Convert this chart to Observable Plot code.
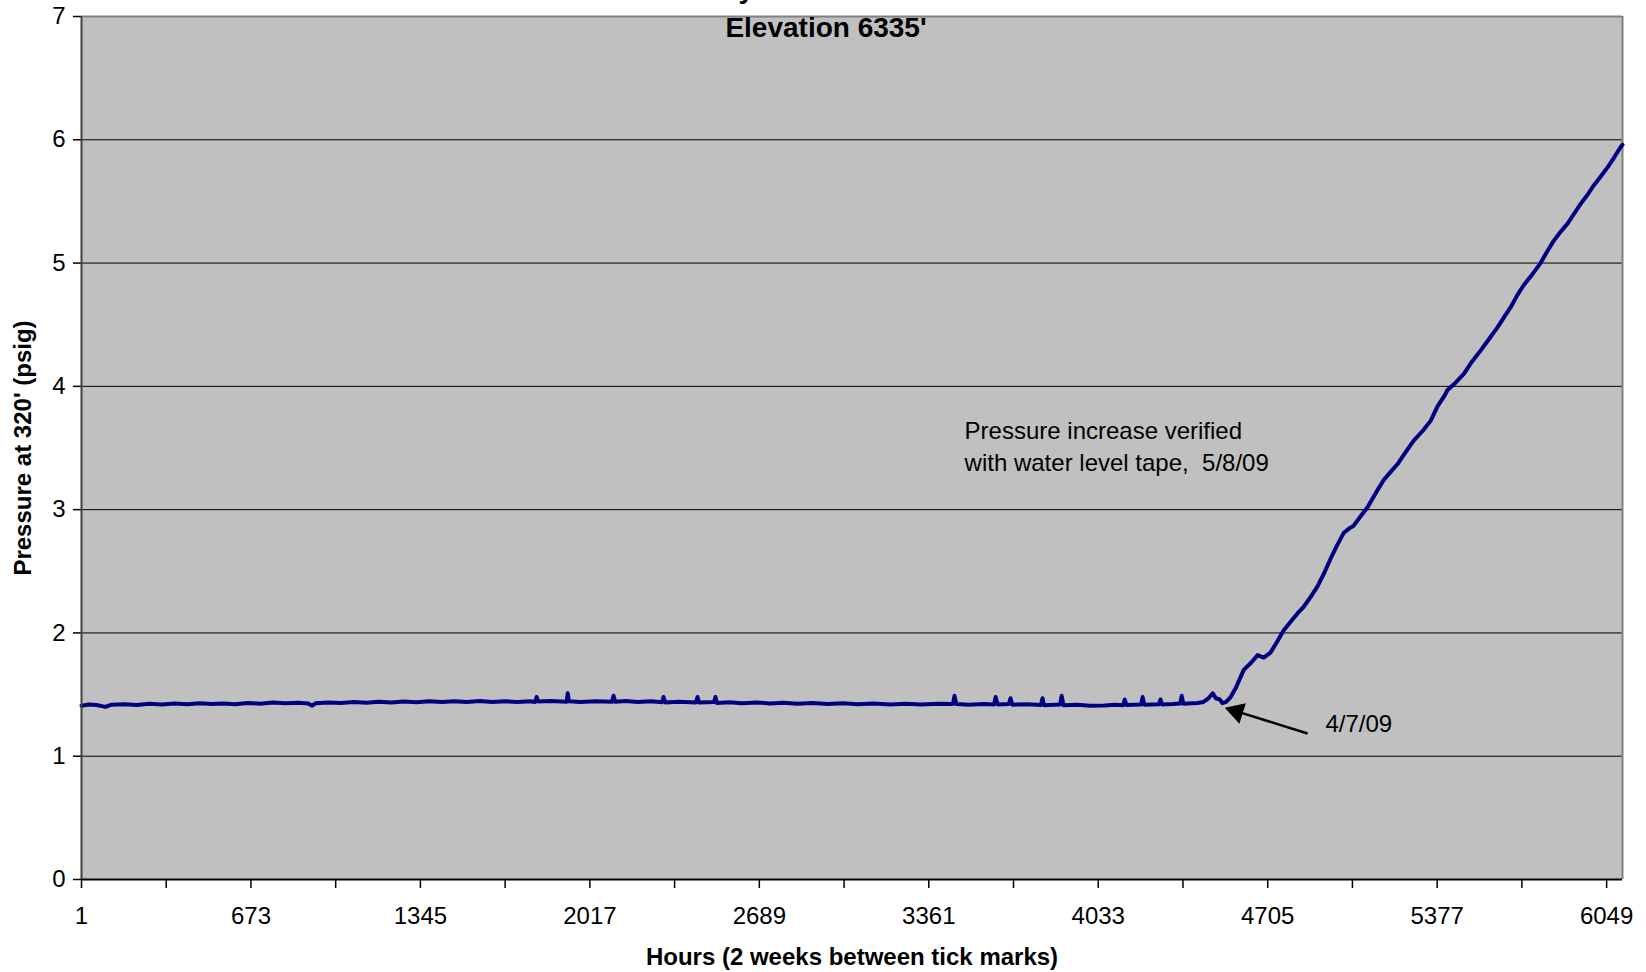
<!DOCTYPE html>
<html>
<head>
<meta charset="utf-8">
<script src="https://cdn.jsdelivr.net/npm/d3@7"></script>
<script src="https://cdn.jsdelivr.net/npm/@observablehq/plot@0.6"></script>
<style>
  html, body { margin: 0; padding: 0; background: #fff; overflow: hidden; }
  #wrap { position: relative; width: 1646px; height: 972px; }
  #chart svg text { white-space: pre; }
  .title { position: absolute; left: 3px; width: 1646px; text-align: center;
           font: bold 28px "Liberation Sans", Arial, sans-serif; line-height: 34px; color: #000; z-index: 5; }
</style>
</head>
<body>
<div id="wrap">
  <div id="chart"></div>
  <div class="title" style="top:-28px">City Park Test Well</div>
  <div class="title" style="top:11px">Elevation 6335'</div>
</div>
<script>
// ---- data ----
const hours = [
  1, 30, 60, 96, 120, 170, 220, 270, 320, 370, 420, 470, 520, 564, 610, 660, 710, 760, 810, 860,
  900, 916, 930, 980, 1030, 1080, 1131, 1180, 1230, 1280, 1330, 1380, 1430, 1480, 1530, 1580, 1630, 1680, 1730, 1780,
  1800, 1806, 1812, 1860, 1925, 1929, 1934, 1980, 2040, 2105, 2111, 2117, 2160, 2206, 2260, 2303, 2309, 2316, 2370, 2438,
  2444, 2450, 2509, 2515, 2521, 2570, 2620, 2680, 2730, 2785, 2840, 2900, 2960, 3020, 3080, 3140, 3210, 3270, 3330, 3400,
  3457, 3463, 3470, 3520, 3580, 3620, 3626, 3634, 3679, 3685, 3692, 3750, 3806, 3812, 3818, 3882, 3888, 3895, 3950, 4000,
  4058, 4100, 4132, 4138, 4145, 4203, 4209, 4215, 4274, 4280, 4286, 4330, 4358, 4364, 4370, 4427, 4450, 4470, 4487, 4500,
  4515, 4526, 4540, 4558, 4580, 4610, 4640, 4665, 4689, 4716, 4740, 4768, 4800, 4824, 4847, 4875, 4903, 4930, 4954, 4980,
  5006, 5030, 5046, 5075, 5101, 5135, 5165, 5190, 5220, 5250, 5284, 5320, 5351, 5379, 5405, 5418, 5450, 5482, 5515, 5549,
  5585, 5617, 5645, 5668, 5695, 5720, 5755, 5787, 5815, 5839, 5865, 5894, 5920, 5946, 5972, 5998, 6025, 6054, 6080, 6104,
  6112
];
const psig = [
  1.410, 1.420, 1.415, 1.400, 1.418, 1.422, 1.415, 1.425, 1.420, 1.428, 1.422, 1.430, 1.424, 1.428, 1.422, 1.432, 1.426, 1.436, 1.430, 1.434,
  1.428, 1.410, 1.430, 1.436, 1.432, 1.440, 1.434, 1.442, 1.436, 1.444, 1.438, 1.446, 1.440, 1.446, 1.440, 1.448, 1.440, 1.446, 1.440, 1.446,
  1.440, 1.480, 1.444, 1.448, 1.442, 1.510, 1.446, 1.440, 1.446, 1.442, 1.490, 1.442, 1.448, 1.440, 1.446, 1.438, 1.480, 1.436, 1.442, 1.436,
  1.480, 1.436, 1.440, 1.480, 1.432, 1.438, 1.430, 1.436, 1.428, 1.434, 1.426, 1.432, 1.424, 1.430, 1.422, 1.428, 1.420, 1.426, 1.420, 1.426,
  1.424, 1.490, 1.424, 1.418, 1.424, 1.420, 1.480, 1.420, 1.424, 1.470, 1.418, 1.422, 1.416, 1.470, 1.414, 1.420, 1.490, 1.414, 1.418, 1.410,
  1.412, 1.418, 1.414, 1.460, 1.416, 1.420, 1.480, 1.418, 1.422, 1.460, 1.420, 1.424, 1.428, 1.490, 1.426, 1.432, 1.440, 1.470, 1.510, 1.470,
  1.460, 1.430, 1.440, 1.480, 1.560, 1.700, 1.760, 1.820, 1.800, 1.840, 1.920, 2.020, 2.100, 2.160, 2.210, 2.290, 2.380, 2.490, 2.600, 2.710,
  2.810, 2.850, 2.870, 2.950, 3.020, 3.140, 3.240, 3.300, 3.370, 3.460, 3.560, 3.640, 3.720, 3.840, 3.920, 3.970, 4.030, 4.100, 4.200, 4.290,
  4.390, 4.480, 4.570, 4.640, 4.740, 4.820, 4.910, 5.000, 5.100, 5.180, 5.250, 5.320, 5.400, 5.480, 5.550, 5.630, 5.700, 5.780, 5.860, 5.940,
  5.960
];
const xMinor = [1, 337, 673, 1009, 1345, 1681, 2017, 2353, 2689, 3025, 3361, 3697, 4033, 4369, 4705, 5041, 5377, 5713, 6049];
const xLabeled = [1, 673, 1345, 2017, 2689, 3361, 4033, 4705, 5377, 6049];
const yTicks = [0, 1, 2, 3, 4, 5, 6, 7];
const yGrid = [1, 2, 3, 4, 5, 6];
const xTitle = "Hours (2 weeks between tick marks)";
const yTitle = "Pressure at 320' (psig)";
const noteLines = ["Pressure increase verified", "with water level tape,  5/8/09"];
const noteHour = [3503, 3503];
const notePsig = [3.634, 3.374];
const dateLabel = ["4/7/09"];
const dateHour = [4934];
const datePsig = [1.257];
const arrowFrom = {h: 4863, p: 1.184};
const arrowTo = {h: 4585, p: 1.362};
const arrowTip = {h: 4582, p: 1.362};

const data = hours.map((h, i) => ({h, p: psig[i]}));
const xMax = hours[hours.length - 1];
const notes = noteLines.map((t, i) => ({t, h: noteHour[i], p: notePsig[i]}));
const dates = dateLabel.map((t, i) => ({t, h: dateHour[i], p: datePsig[i]}));

const font = '"Liberation Sans", Arial, sans-serif';
const chart = Plot.plot({
  width: 1646,
  height: 972,
  marginTop: 16,
  marginBottom: 93,
  marginLeft: 81,
  marginRight: 24,
  style: {fontFamily: font, fontSize: "24px", color: "#000", background: "#fff", overflow: "visible"},
  x: {domain: [1, xMax]},
  y: {domain: [0, 7]},
  marks: [
    Plot.frame({fill: "#c0c0c0", stroke: "none"}),
    Plot.ruleY(yGrid, {stroke: "#000", strokeWidth: 1}),
    Plot.ruleY([7], {stroke: "#808080", strokeWidth: 2}),
    Plot.ruleX([xMax], {stroke: "#808080", strokeWidth: 2}),
    Plot.axisX({ticks: xMinor, tickSize: 9, tickFormat: () => "", stroke: "#000", strokeWidth: 1.5}),
    Plot.axisX({ticks: xLabeled, tickSize: 0, tickPadding: 27, tickFormat: d => String(d), fontSize: 24, label: null}),
    Plot.axisY({ticks: yTicks, tickSize: 8, tickPadding: 8, tickFormat: d => String(d), fontSize: 24, label: null, stroke: "#000", strokeWidth: 1.5}),
    Plot.line(data, {x: "h", y: "p", stroke: "#000080", strokeWidth: 4, strokeLinejoin: "round"}),
    Plot.ruleX([1], {stroke: "#404040", strokeWidth: 2}),
    Plot.ruleY([0], {stroke: "#000", strokeWidth: 2}),
    Plot.text(notes, {x: "h", y: "p", text: "t", textAnchor: "start", fontSize: 24, fill: "#000"}),
    Plot.text(dates, {x: "h", y: "p", text: "t", textAnchor: "start", fontSize: 24, fill: "#000"}),
    Plot.link([{x1: arrowFrom.h, y1: arrowFrom.p, x2: arrowTo.h, y2: arrowTo.p}],
      {x1: "x1", y1: "y1", x2: "x2", y2: "y2", stroke: "#000", strokeWidth: 2.5}),
    Plot.dot([arrowTip], {x: "h", y: "p", symbol: "triangle", r: 8, fill: "#000", stroke: "none", rotate: -72.6}),
    Plot.text([xTitle], {frameAnchor: "bottom", dy: 85, fontWeight: "bold", fontSize: 24, fill: "#000"}),
    Plot.text([yTitle], {frameAnchor: "left", textAnchor: "middle", dx: -58, rotate: -90, fontWeight: "bold", fontSize: 24, fill: "#000"})
  ]
});
document.getElementById("chart").appendChild(chart);
</script>
</body>
</html>
